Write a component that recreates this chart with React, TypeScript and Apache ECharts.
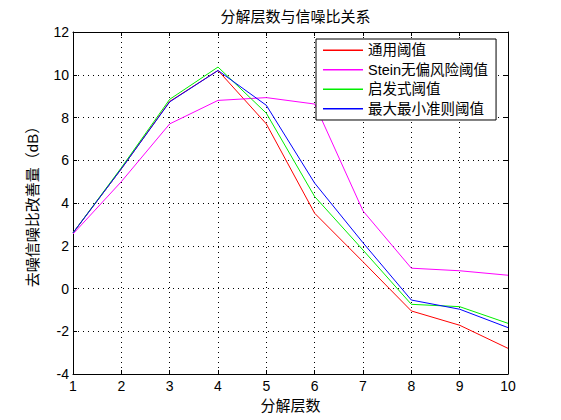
import React, { useEffect, useRef } from "react";
import * as echarts from "echarts";

const levels = [1, 2, 3, 4, 5, 6, 7, 8, 9, 10];
const seriesNames = ["通用阈值", "Stein无偏风险阈值", "启发式阈值", "最大最小准则阈值"];
const universal = [2.6, 5.6, 8.75, 10.2, 7.7, 3.52, 1.25, -1.05, -1.72, -2.8];
const stein = [2.55, 5.0, 7.7, 8.8, 8.93, 8.63, 3.63, 0.95, 0.83, 0.62];
const heuristic = [2.6, 5.65, 8.85, 10.36, 8.2, 4.3, 1.8, -0.74, -0.85, -1.63];
const minimax = [2.6, 5.6, 8.73, 10.2, 8.57, 4.93, 2.14, -0.54, -0.97, -1.83];
const colors = ["#ff0000", "#ff00ff", "#00ee00", "#0000ff"];

const FONT = "'Liberation Sans', Arial, 'Noto Sans CJK SC', sans-serif";

export default function App() {
  const ref = useRef<HTMLDivElement>(null);
  useEffect(() => {
    if (!ref.current) return;
    const chart = echarts.init(ref.current, undefined, { renderer: "svg" });
    const values = [universal, stein, heuristic, minimax];
    const axisCommon = {
      axisLine: { show: true, onZero: false, lineStyle: { color: "#000", width: 1 } },
      axisTick: { show: true, inside: true, length: 4, lineStyle: { color: "#000" } },
    };
    chart.setOption({
      animation: false,
      backgroundColor: "#fff",
      title: {
        text: "分解层数与信噪比关系",
        left: 290.5,
        top: 4,
        textAlign: "center",
        textStyle: { fontSize: 15, fontWeight: "normal", color: "#000", fontFamily: FONT },
      },
      grid: { left: 73, right: 53, top: 32, bottom: 46, show: false },
      legend: {
        orient: "vertical",
        left: 316,
        top: 39,
        data: seriesNames.map((name, i) => ({
          name,
          icon: "rect",
          itemStyle: { color: colors[i], borderWidth: 0, opacity: 1 },
        })),
        itemWidth: 40,
        itemHeight: 1.5,
        itemGap: 5,
        padding: [4, 8, 4, 7],
        backgroundColor: "#fff",
        borderColor: "#000",
        borderWidth: 1,
        borderRadius: 0,
        textStyle: { fontSize: 14.5, color: "#000", fontFamily: FONT },
      },
      xAxis: [
        {
          type: "value",
          min: 1,
          max: 10,
          interval: 1,
          position: "bottom",
          name: "分解层数",
          nameLocation: "middle",
          nameGap: 24,
          nameTextStyle: { fontSize: 15, color: "#000", fontFamily: FONT },
          ...axisCommon,
          axisLabel: { fontSize: 14, color: "#000", margin: 5, fontFamily: FONT },
          splitLine: { show: true, lineStyle: { color: "#000", type: [1, 4], width: 1 } },
        },
        {
          type: "value",
          min: 1,
          max: 10,
          interval: 1,
          position: "top",
          ...axisCommon,
          axisLabel: { show: false },
          splitLine: { show: false },
        },
      ],
      yAxis: [
        {
          type: "value",
          min: -4,
          max: 12,
          interval: 2,
          position: "left",
          name: "去噪信噪比改善量（dB）",
          nameLocation: "middle",
          nameRotate: 90,
          nameGap: 33,
          nameTextStyle: { fontSize: 15, color: "#000", fontFamily: FONT },
          ...axisCommon,
          axisLabel: { fontSize: 14, color: "#000", margin: 4, fontFamily: FONT },
          splitLine: { show: true, lineStyle: { color: "#000", type: [1, 4], width: 1 } },
        },
        {
          type: "value",
          min: -4,
          max: 12,
          interval: 2,
          position: "right",
          ...axisCommon,
          axisLabel: { show: false },
          splitLine: { show: false },
        },
      ],
      series: seriesNames.map((name, i) => ({
        name,
        type: "line",
        xAxisIndex: 0,
        yAxisIndex: 0,
        symbol: "none",
        color: colors[i],
        itemStyle: { color: colors[i] },
        lineStyle: { color: colors[i], width: 1 },
        data: levels.map((x, j) => [x, values[i][j]]),
        z: 3,
      })),
    });
    return () => chart.dispose();
  }, []);
  return (
    <div
      ref={ref}
      style={{ position: "fixed", left: 0, top: 0, width: 561, height: 420, background: "#fff" }}
    />
  );
}
